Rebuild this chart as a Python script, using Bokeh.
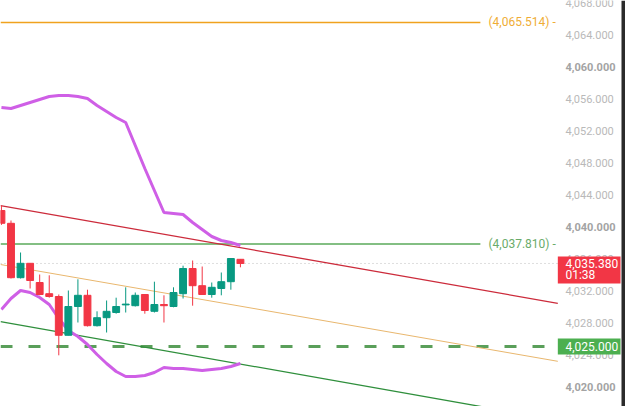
from bokeh.plotting import figure
from bokeh.models import Range1d, Label, BoxAnnotation, ColumnDataSource
from bokeh.core.properties import value
from bokeh.embed import file_html
from bokeh.resources import INLINE

# ---- data ----
opens  = [4042.0, 4040.4, 4033.6, 4035.4, 4033.0, 4031.6, 4031.25, 4026.4, 4030.0, 4031.4, 4027.6, 4028.6, 4029.25,
          4030.2, 4030.1, 4031.5, 4029.4, 4030.25, 4030.0, 4031.6, 4034.75, 4032.6, 4031.5, 4032.25, 4033.1, 4035.9]
highs  = [4042.6, 4040.75, 4036.75, 4035.4, 4034.0, 4033.9, 4031.5, 4032.0, 4033.4, 4032.1, 4029.4, 4030.75, 4031.1,
          4032.4, 4031.75, 4031.5, 4033.1, 4031.4, 4032.4, 4035.1, 4035.75, 4035.0, 4033.0, 4034.25, 4036.0, 4035.9]
lows   = [4040.2, 4033.5, 4033.5, 4032.25, 4031.4, 4031.1, 4023.9, 4026.4, 4028.0, 4027.5, 4027.5, 4026.75, 4029.1,
          4029.25, 4030.0, 4029.1, 4029.25, 4028.0, 4029.9, 4031.0, 4030.1, 4031.5, 4031.1, 4031.4, 4032.1, 4034.9]
closes = [4040.4, 4033.6, 4035.4, 4033.25, 4031.5, 4031.25, 4026.4, 4030.0, 4031.4, 4027.6, 4028.6, 4029.4, 4030.0,
          4030.3, 4031.4, 4029.5, 4030.25, 4030.1, 4031.75, 4034.75, 4032.6, 4031.5, 4032.4, 4033.1, 4036.0, 4035.38]

bb_upper = [4054.875, 4054.75, 4055.125, 4055.5, 4055.875, 4056.25, 4056.375, 4056.375, 4056.25, 4056.0, 4055.125,
            4054.375, 4053.625, 4053.0, 4050.125, 4047.25, 4044.5, 4041.75, 4041.625, 4041.5, 4040.5, 4039.625,
            4038.75, 4038.25, 4038.0, 4037.625]
bb_lower = [4029.625, 4031.0, 4032.0, 4031.75, 4031.125, 4030.25, 4028.5, 4027.0, 4026.25, 4025.25, 4024.0, 4022.875,
            4021.875, 4021.25, 4021.25, 4021.375, 4021.75, 4022.375, 4022.25, 4022.25, 4022.125, 4022.0, 4022.125,
            4022.25, 4022.5, 4022.875]

trend_x = [-0.1, 58.2]
red_trend = [4042.6, 4030.4]
tan_trend = [4035.25, 4023.15]
green_trend = [4028.1, 4015.8]

level_orange = 4065.514
level_green = 4037.810
level_support = 4025.000
last_price = 4035.380
countdown = "01:38"

tick_values = [4020, 4024, 4028, 4032, 4036, 4040, 4044, 4048, 4052, 4056, 4060, 4064, 4068]
tick_labels = ["4,020.000", "4,024.000", "4,028.000", "4,032.000", "4,036.000", "4,040.000", "4,044.000",
               "4,048.000", "4,052.000", "4,056.000", "4,060.000", "4,064.000", "4,068.000"]
bold_ticks = [4020, 4040, 4060]

# ---- layout / styles ----
UP = "#089981"
DOWN = "#f23645"
PURPLE = "#cf5fe6"
FONT = "Roboto"
X0 = -0.098          # left frame edge (bar index)
PLOT_END = 58.2      # where the price pane ends and the price scale begins
SCALE_X = 59.0       # x where price scale labels start
BOX_R = 64.76        # right edge of price boxes
LEVEL_END = 50.1     # end of drawn horizontal level lines

idx = list(range(len(opens)))
colors = [UP if c >= o else DOWN for o, c in zip(opens, closes)]
src = ColumnDataSource(dict(x=idx, o=opens, h=highs, l=lows, c=closes, color=colors,
                            top=[max(o, c) for o, c in zip(opens, closes)],
                            bot=[min(o, c) for o, c in zip(opens, closes)]))

p = figure(frame_width=625, frame_height=406,
           x_range=Range1d(X0, 65.28), y_range=Range1d(4017.5, 4068.25),
           output_backend="svg", toolbar_location=None,
           x_axis_location=None, y_axis_location=None,
           min_border_left=0, min_border_right=0, min_border_top=0, min_border_bottom=0)
p.grid.visible = False
p.outline_line_color = None
p.background_fill_color = "white"
p.border_fill_color = "white"

# price scale labels
norm = [(v, t) for v, t in zip(tick_values, tick_labels) if v not in bold_ticks]
bold = [(v, t) for v, t in zip(tick_values, tick_labels) if v in bold_ticks]
p.text(x=[SCALE_X] * len(norm), y=[v for v, _ in norm], text=[t for _, t in norm],
       text_align="left", text_baseline="middle", text_font=value(FONT), text_font_size="11px",
       text_color="#b9b9b9")
p.text(x=[SCALE_X] * len(bold), y=[v for v, _ in bold], text=[t for _, t in bold],
       text_align="left", text_baseline="middle", text_font=value(FONT), text_font_size="11px",
       text_font_style="bold", text_color="#a3a3a3")

# horizontal levels
p.line([X0, LEVEL_END], [level_orange, level_orange], line_color="#f0a21e", line_width=1.5)
p.line([X0, LEVEL_END], [level_green, level_green], line_color="#5aaa5a", line_width=1.5)
p.line([X0, PLOT_END], [level_support, level_support], line_color="#5a9f5a", line_width=3, line_dash="12 16")
p.line([X0, PLOT_END], [last_price, last_price], line_color="#bdbdbd", line_width=1, line_dash="1 3")

p.add_layout(Label(x=488, x_units="screen", y=level_orange, text="(%s) -" % f"{level_orange:,.3f}",
                   text_align="left", text_baseline="middle", text_font=FONT, text_font_size="12px",
                   text_color="#efad35"))
p.add_layout(Label(x=488, x_units="screen", y=level_green, text="(%s) -" % f"{level_green:,.3f}",
                   text_align="left", text_baseline="middle", text_font=FONT, text_font_size="12px",
                   text_color="#6aab6a"))

# trend channel
p.line(trend_x, red_trend, line_color="#cc2b3b", line_width=1.3)
p.line(trend_x, tan_trend, line_color="#e9b76e", line_width=1)
p.line(trend_x, green_trend, line_color="#2f8f3c", line_width=1.3)

# bollinger bands
p.line(idx, bb_upper, line_color=PURPLE, line_width=3)
p.line(idx, bb_lower, line_color=PURPLE, line_width=3)

# candles
p.segment(x0="x", x1="x", y0="l", y1="h", color="color", line_width=1, source=src)
p.vbar(x="x", width=0.72, top="top", bottom="bot", fill_color="color", line_color="color", source=src)

# price boxes on the scale
p.quad(left=[PLOT_END], right=[BOX_R], top=[last_price + 0.87], bottom=[last_price - 2.5],
       fill_color=DOWN, line_color=None)
p.text(x=[SCALE_X], y=[last_price], text=[f"{last_price:,.3f}"], text_align="left", text_baseline="middle",
       text_font=value(FONT), text_font_size="12px", text_color="white")
p.text(x=[SCALE_X], y=[last_price - 1.5], text=[countdown], text_align="left", text_baseline="middle",
       text_font=value(FONT), text_font_size="12px", text_color="white")
p.quad(left=[PLOT_END], right=[BOX_R], top=[level_support + 1.0], bottom=[level_support - 1.0],
       fill_color="#4caf50", line_color=None)
p.text(x=[SCALE_X], y=[level_support], text=[f"{level_support:,.3f}"], text_align="left", text_baseline="middle",
       text_font=value(FONT), text_font_size="12px", text_color="white")

# dark window edge on the right
p.add_layout(BoxAnnotation(left=621, right=625, left_units="screen", right_units="screen",
                           fill_color="#2b2b2b", fill_alpha=1, line_color=None))

open("out.html", "w").write(file_html(p, INLINE))
